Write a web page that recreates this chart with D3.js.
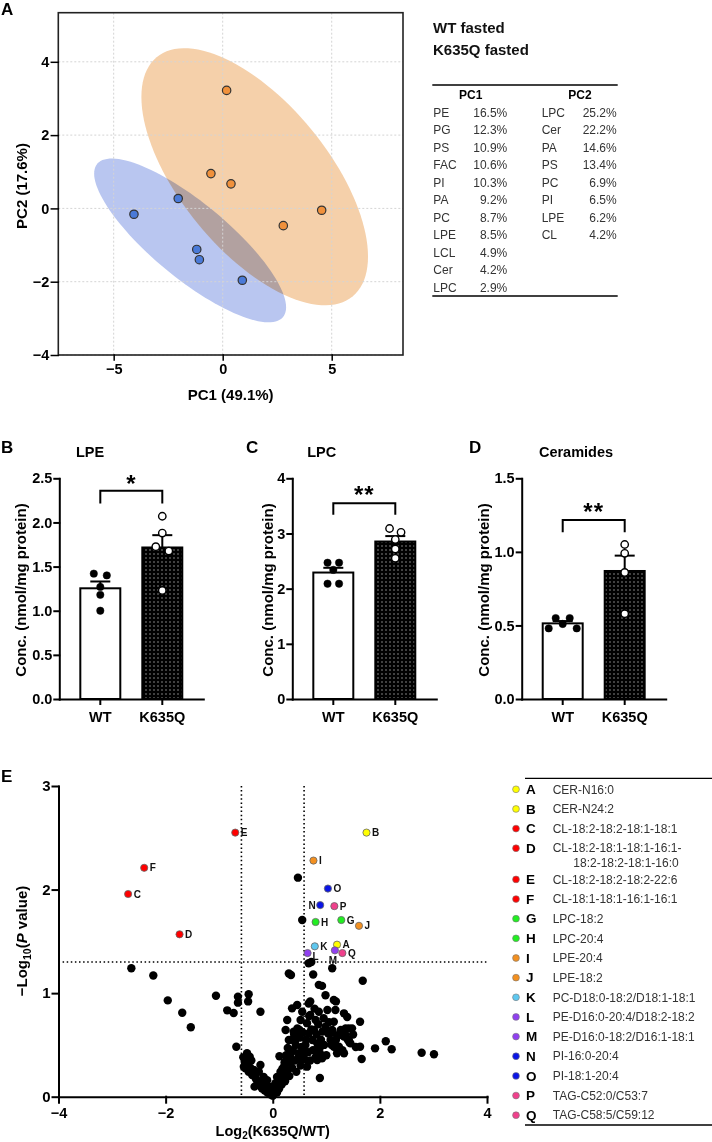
<!DOCTYPE html>
<html><head><meta charset="utf-8">
<script src="https://cdn.jsdelivr.net/npm/d3@7/dist/d3.min.js"></script>
<style>
html,body{margin:0;padding:0;background:#fff;}
svg{display:block;}
</style></head>
<body>
<svg id="chart" width="712" height="1142" xmlns="http://www.w3.org/2000/svg"></svg>
<script>
// ================= DATA =================
// Panel A – PCA scores
const pcaWT    = [[-4.07,-0.16],[-2.04,0.27],[-1.19,-1.12],[-1.07,-1.40],[0.90,-1.96]];
const pcaK635Q = [[0.18,3.22],[-0.54,0.95],[0.38,0.67],[2.78,-0.47],[4.54,-0.05]];
const pcaXTicks = [-5,0,5];
const pcaYTicks = [-4,-2,0,2,4];
const pcaXDomain = [-7.54, 8.27];
const pcaYDomain = [-4, 5.34];
const pcaGroups = ["WT fasted","K635Q fasted"];
const pc1Names = ["PE","PG","PS","FAC","PI","PA","PC","LPE","LCL","Cer","LPC"];
const pc1Pct   = ["16.5%","12.3%","10.9%","10.6%","10.3%","9.2%","8.7%","8.5%","4.9%","4.2%","2.9%"];
const pc2Names = ["LPC","Cer","PA","PS","PC","PI","LPE","CL"];
const pc2Pct   = ["25.2%","22.2%","14.6%","13.4%","6.9%","6.5%","6.2%","4.2%"];

// Panels B–D – bar charts (individual animals)
const barGroups = ["WT","K635Q"];
const lpeWT    = [1.42,1.40,1.27,1.18,1.00];
const lpeK635Q = [2.07,1.88,1.725,1.676,1.23];
const lpcWT    = [2.47,2.47,2.34,2.09,2.09];
const lpcK635Q = [3.09,3.02,2.89,2.72,2.55];
const cerWT    = [0.48,0.55,0.51,0.55,0.48];
const cerK635Q = [1.05,0.99,0.86,0.58];
const lpeTicks = [0,0.5,1,1.5,2,2.5];
const lpcTicks = [0,1,2,3,4];
const cerTicks = [0,0.5,1,1.5];

// Panel E – volcano
const volIds = ["A","B","C","D","E","F","G","H","I","J","K","L","M","N","O","P","Q"];
const volNames = ["CER-N16:0","CER-N24:2","CL-18:2-18:2-18:1-18:1",
  "CL-18:2-18:1-18:1-16:1-\n18:2-18:2-18:1-16:0","CL-18:2-18:2-18:2-22:6",
  "CL-18:1-18:1-16:1-16:1","LPC-18:2","LPC-20:4","LPE-20:4","LPE-18:2",
  "PC-D18:0-18:2/D18:1-18:1","PE-D16:0-20:4/D18:2-18:2","PE-D16:0-18:2/D16:1-18:1",
  "PI-16:0-20:4","PI-18:1-20:4","TAG-C52:0/C53:7","TAG-C58:5/C59:12"];
const volColors = ["#ffff00","#ffff00","#ff0000","#ff0000","#ff0000","#ff0000",
  "#22ee22","#22ee22","#f39020","#f39020","#5ec8f0","#9040f0","#9040f0",
  "#0a14e6","#0a14e6","#f0408c","#f0408c"];
const volX = [1.20,1.75,-2.70,-1.74,-0.70,-2.40,1.28,0.80,0.76,1.61,0.785,0.65,1.16,0.886,1.03,1.15,1.30];
const volY = [1.468,2.55,1.957,1.568,2.55,2.21,1.706,1.687,2.28,1.65,1.452,1.387,1.413,1.85,2.01,1.84,1.387];
const volOther = [
 [-2.64,1.24],[-2.23,1.17],[-1.96,0.93],[-1.69,0.81],[-1.53,0.67],[-1.06,0.975],[-0.85,0.834],
 [-0.73,0.808],[-0.65,0.966],[-0.65,0.908],[-0.68,0.483],[-0.45,0.99],[-0.46,0.92],[-0.23,0.82],
 [-0.48,0.42],[-0.43,0.386],[-0.51,0.274],[-0.45,0.24],[-0.385,0.21],[-0.34,0.097],[-0.23,0.306],
 [-0.26,0.24],[-0.17,0.19],[-0.105,0.16],[-0.04,0.097],[-0.01,0.05],[0.02,0.033],[0.05,0.13],
 [0.08,0.19],[0.125,0.39],[0.145,0.24],[0.21,0.29],[0.26,0.354],[0.27,0.74],[0.24,0.644],
 [0.30,1.19],[0.34,1.175],[0.36,0.853],[0.39,0.628],[0.33,0.45],[0.30,0.547],[0.42,0.547],
 [0.456,0.885],[0.52,0.74],[0.55,0.82],[0.50,0.644],[0.49,0.42],[0.52,0.354],[0.58,0.45],
 [0.61,0.50],[0.64,0.71],[0.67,0.61],[0.67,1.288],[0.72,1.30],[0.755,1.18],[0.70,0.92],
 [0.67,0.90],[0.70,0.79],[0.86,1.08],[0.92,1.07],[0.985,0.98],[0.86,0.82],[0.80,0.74],
 [0.77,0.644],[0.74,0.547],[0.83,0.515],[0.89,0.483],[0.80,0.45],[0.92,0.37],[0.83,0.354],
 [0.88,0.18],[0.95,0.757],[0.985,0.676],[1.02,0.837],[1.035,0.61],[1.11,1.24],[1.14,0.934],
 [1.18,0.92],[1.17,0.837],[1.14,0.724],[1.11,0.644],[1.08,0.547],[1.17,0.547],[1.14,0.483],
 [1.235,0.483],[1.27,0.644],[1.33,0.805],[1.39,0.77],[1.36,0.66],[1.42,0.66],[1.33,0.58],
 [1.42,0.547],[1.45,0.515],[1.30,0.45],[1.33,0.42],[1.48,0.66],[1.63,0.724],[1.68,1.12],
 [1.63,0.483],[1.66,0.364],[1.91,0.467],[2.11,0.535],[2.22,0.458],[2.78,0.425],[3.01,0.41],
 [0.47,2.115],[0.55,1.706],[1.235,0.595],[1.36,0.595],[1.43,0.525],[1.14,0.49],
 [-0.54,0.29],[-0.355,0.258],[-0.32,0.18],[-0.23,0.13],[-0.10,0.08],
 [-0.55,0.38],[-0.52,0.33],[-0.47,0.30],[-0.42,0.28],[-0.40,0.35],[-0.36,0.25],[-0.33,0.20],
 [-0.30,0.16],[-0.28,0.12],[-0.25,0.14],[-0.22,0.10],[-0.20,0.08],[-0.18,0.12],[-0.15,0.06],
 [-0.12,0.09],[-0.10,0.04],[-0.08,0.07],[-0.06,0.03],[-0.04,0.02],[-0.02,0.05],[0.0,0.01],
 [0.04,0.06],[0.06,0.10],[0.08,0.04],[0.10,0.13],[0.12,0.08],[0.14,0.18],[0.15,0.22],
 [0.17,0.12],[0.18,0.27],[0.20,0.20],[0.22,0.33],[0.23,0.15],[0.25,0.40],[0.27,0.25],
 [0.28,0.47],[0.30,0.33],[0.31,0.20],[0.33,0.38],[0.35,0.55],[0.36,0.28],[0.38,0.44],
 [0.40,0.60],[0.41,0.35],[0.43,0.50],[0.44,0.24],[0.46,0.66],[0.48,0.38],[0.50,0.57],
 [0.52,0.30],[0.54,0.48],[0.56,0.62],[0.57,0.40],[0.60,0.36],[0.62,0.55],[0.64,0.29],
 [0.66,0.43],[0.68,0.78],[0.70,0.35],[0.72,0.65],[0.75,0.45],[0.78,0.85],[0.80,0.38],
 [0.82,0.60],[0.85,0.70],[0.88,0.42],[0.90,0.55],[0.93,0.63],[0.96,0.50],[1.00,0.40],
 [1.05,0.72],[1.10,0.50],[1.12,0.62],[1.18,0.55],[1.20,0.42],[1.25,0.60],[1.40,0.55],
 [1.50,0.60],[1.55,0.48]
];
const volXTicks = [-4,-2,0,2,4];
const volYTicks = [0,1,2,3];
const fcCut = 0.585;   // log2(1.5)
const pCut = 1.301;    // -log10(0.05)

// ================= DRAWING =================
const FONT = 'Arial, "Liberation Sans", Helvetica, sans-serif';
const svg = d3.select("#chart").attr("font-family", FONT);
const defs = svg.append("defs");
const pat = defs.append("pattern").attr("id","dots").attr("patternUnits","userSpaceOnUse")
  .attr("width",4).attr("height",4);
pat.append("rect").attr("width",4).attr("height",4).attr("fill","#000");
pat.append("rect").attr("x",1.5).attr("y",1.5).attr("width",1).attr("height",1).attr("fill","#fff");

function letter(t,x,y){
  svg.append("text").attr("x",x).attr("y",y).attr("dy","0.35em").attr("font-size",17)
    .attr("font-weight","bold").attr("fill","#000").text(t);
}
function styleAxis(g,fs,sw){
  g.attr("font-family",FONT).attr("font-size",fs).attr("font-weight","bold");
  g.selectAll("text").attr("fill","#000");
  g.selectAll("line,path").attr("stroke","#000").attr("stroke-width",sw).attr("stroke-linecap","square");
}

// ---------- Panel A ----------
letter("A",1,9);
const ax = d3.scaleLinear().domain(pcaXDomain).range([58.3,403]);
const ay = d3.scaleLinear().domain(pcaYDomain).range([355,12.7]);

function confEllipse(pts, chi2, n){
  const m = pts.length;
  const mx = d3.mean(pts,d=>d[0]), my = d3.mean(pts,d=>d[1]);
  let sxx=0,syy=0,sxy=0;
  pts.forEach(([x,y])=>{sxx+=(x-mx)**2; syy+=(y-my)**2; sxy+=(x-mx)*(y-my);});
  sxx/=(m-1); syy/=(m-1); sxy/=(m-1);
  const a=Math.sqrt(sxx), b=sxy/a, c=Math.sqrt(syy-b*b), k=Math.sqrt(chi2);
  return d3.range(n).map(i=>{const t=2*Math.PI*i/n, u=Math.cos(t), v=Math.sin(t);
    return [mx+k*a*u, my+k*(b*u+c*v)];});
}
const ell = d3.line().x(d=>ax(d[0])).y(d=>ay(d[1])).curve(d3.curveLinearClosed);
const gA = svg.append("g");
gA.append("path").attr("d",ell(confEllipse(pcaWT,5.991,120))).attr("fill","#b9c6f0");
gA.append("path").attr("d",ell(confEllipse(pcaK635Q,5.991,120))).attr("fill","#f5d0aa")
  .style("mix-blend-mode","multiply");
// grid
gA.selectAll(".gx").data(pcaXTicks).join("line").attr("x1",d=>ax(d)).attr("x2",d=>ax(d))
  .attr("y1",ay.range()[1]).attr("y2",ay.range()[0]).attr("stroke","#d4d4d4").attr("stroke-dasharray","2,2");
gA.selectAll(".gy").data(pcaYTicks).join("line").attr("y1",d=>ay(d)).attr("y2",d=>ay(d))
  .attr("x1",ax.range()[0]).attr("x2",ax.range()[1]).attr("stroke","#d4d4d4").attr("stroke-dasharray","2,2");
gA.append("rect").attr("x",ax.range()[0]).attr("y",ay.range()[1])
  .attr("width",ax.range()[1]-ax.range()[0]).attr("height",ay.range()[0]-ay.range()[1])
  .attr("fill","none").attr("stroke","#222").attr("stroke-width",1.6);
const axL = gA.append("g").attr("transform",`translate(${ax.range()[0]},0)`)
  .call(d3.axisLeft(ay).tickValues(pcaYTicks).tickSize(7).tickPadding(2).tickSizeOuter(0));
axL.select(".domain").remove(); styleAxis(axL,14.5,1.5);
const axB = gA.append("g").attr("transform",`translate(0,${ay.range()[0]})`)
  .call(d3.axisBottom(ax).tickValues(pcaXTicks).tickSize(5).tickPadding(4).tickSizeOuter(0));
axB.select(".domain").remove(); styleAxis(axB,14.5,1.5);
gA.append("text").attr("x",(ax.range()[0]+ax.range()[1])/2).attr("y",395).attr("dy","0.35em")
  .attr("text-anchor","middle").attr("font-size",15).attr("font-weight","bold").text("PC1 (49.1%)");
gA.append("text").attr("transform","translate(22,186) rotate(-90)").attr("dy","0.35em")
  .attr("text-anchor","middle").attr("font-size",15).attr("font-weight","bold").text("PC2 (17.6%)");
[[pcaWT,"#4a7ad8"],[pcaK635Q,"#f0913c"]].forEach(([pts,col])=>{
  gA.selectAll(null).data(pts).join("circle").attr("cx",d=>ax(d[0])).attr("cy",d=>ay(d[1]))
    .attr("r",4.2).attr("fill",col).attr("stroke","#333").attr("stroke-width",1.2);
});
// legend + loadings table
svg.selectAll(".lg").data(pcaGroups).join("text").attr("x",433).attr("y",(d,i)=>27.3+i*22)
  .attr("dy","0.35em").attr("font-size",15).attr("font-weight","bold").attr("fill","#111").text(d=>d);
svg.append("line").attr("x1",432.3).attr("x2",617.7).attr("y1",85).attr("y2",85).attr("stroke","#000").attr("stroke-width",1.3);
svg.append("line").attr("x1",432.3).attr("x2",617.7).attr("y1",296).attr("y2",296).attr("stroke","#000").attr("stroke-width",1.3);
svg.append("text").attr("x",470.7).attr("y",95).attr("dy","0.35em").attr("text-anchor","middle")
  .attr("font-size",12).attr("font-weight","bold").text("PC1");
svg.append("text").attr("x",580).attr("y",95).attr("dy","0.35em").attr("text-anchor","middle")
  .attr("font-size",12).attr("font-weight","bold").text("PC2");
const rowY = i => 112.7 + i*17.46;
function tableCol(names,pcts,xn,xv){
  svg.selectAll(null).data(names).join("text").attr("x",xn).attr("y",(d,i)=>rowY(i)).attr("dy","0.35em")
    .attr("font-size",12).attr("fill","#333").text(d=>d);
  svg.selectAll(null).data(pcts).join("text").attr("x",xv).attr("y",(d,i)=>rowY(i)).attr("dy","0.35em")
    .attr("text-anchor","end").attr("font-size",12).attr("fill","#333").text(d=>d);
}
tableCol(pc1Names,pc1Pct,433.3,507.3);
tableCol(pc2Names,pc2Pct,541.7,616.7);

// ---------- Panels B–D ----------
function offsets(vals,y,gap,sp){
  const idx = vals.map((v,i)=>i).sort((a,b)=>vals[b]-vals[a]);
  const groups=[]; let cur=[idx[0]];
  for(let k=1;k<idx.length;k++){
    if(Math.abs(y(vals[idx[k]])-y(vals[idx[k-1]]))<gap) cur.push(idx[k]);
    else {groups.push(cur); cur=[idx[k]];}
  }
  groups.push(cur);
  const off = new Array(vals.length).fill(0);
  groups.forEach(gr=>{gr.sort((a,b)=>a-b); gr.forEach((id,j)=>off[id]=(j-(gr.length-1)/2)*sp);});
  return off;
}
function barPanel(o){
  const y = d3.scaleLinear().domain([0,o.ticks[o.ticks.length-1]]).range([699,478.3]);
  const x = d3.scaleBand().domain(barGroups).range([o.x0,o.x0+144]).paddingInner(0.355).paddingOuter(0.339);
  const g = svg.append("g");
  letter(o.letter,o.lx,447.5);
  g.append("text").attr("x",o.tx).attr("y",451.7).attr("dy","0.35em").attr("text-anchor","middle")
    .attr("font-size",14.5).attr("font-weight","bold").text(o.title);
  [o.wt,o.k].forEach((vals,i)=>{
    const grp = barGroups[i], m = d3.mean(vals), sem = d3.deviation(vals)/Math.sqrt(vals.length);
    const bx = x(grp), bw = x.bandwidth(), cx = bx+bw/2;
    g.append("line").attr("x1",cx).attr("x2",cx).attr("y1",y(m)).attr("y2",y(m+sem)).attr("stroke","#000").attr("stroke-width",2);
    g.append("line").attr("x1",cx-10).attr("x2",cx+10).attr("y1",y(m+sem)).attr("y2",y(m+sem)).attr("stroke","#000").attr("stroke-width",2);
    g.append("rect").attr("x",bx).attr("y",y(m)).attr("width",bw).attr("height",y(0)-y(m))
      .attr("fill",i?"url(#dots)":"#fff").attr("stroke","#000").attr("stroke-width",2);
    const off = offsets(vals,y,7,o.sp);
    g.selectAll(null).data(vals).join("circle").attr("cx",(d,j)=>cx+off[j]).attr("cy",d=>y(d)).attr("r",3.7)
      .attr("fill",i?"#fff":"#000").attr("stroke","#000").attr("stroke-width",i?1.4:0.5);
  });
  // axes
  const yl = g.append("g").attr("transform",`translate(${o.x0},0)`)
    .call(d3.axisLeft(y).tickValues(o.ticks).tickFormat(o.fmt).tickSize(5).tickPadding(2).tickSizeOuter(0));
  styleAxis(yl,14.5,2);
  const xl = g.append("g").attr("transform",`translate(0,${y(0)})`)
    .call(d3.axisBottom(x).tickSize(5).tickPadding(7.5).tickSizeOuter(0));
  styleAxis(xl,14.5,2);
  g.append("text").attr("transform",`translate(${o.ylx},590) rotate(-90)`).attr("dy","0.35em")
    .attr("text-anchor","middle").attr("font-size",15).attr("font-weight","bold").text("Conc. (nmol/mg protein)");
  // significance bracket
  const c1 = x("WT")+x.bandwidth()/2, c2 = x("K635Q")+x.bandwidth()/2;
  g.append("path").attr("d",`M${c1},${y(o.br[1])}V${y(o.br[0])}H${c2}V${y(o.br[1])}`)
    .attr("fill","none").attr("stroke","#000").attr("stroke-width",2);
  g.append("text").attr("x",(c1+c2)/2).attr("y",y(o.br[0])+o.sy).attr("text-anchor","middle")
    .attr("font-size",24).attr("font-weight","bold").attr("letter-spacing",1).text(o.stars);
}
barPanel({letter:"B",lx:1,title:"LPE",tx:90,x0:59.3,wt:lpeWT,k:lpeK635Q,ticks:lpeTicks,
  fmt:d3.format(".1f"),ylx:21,br:[2.36,2.215],stars:"*",sy:1,sp:13});
barPanel({letter:"C",lx:246,title:"LPC",tx:321.7,x0:292.3,wt:lpcWT,k:lpcK635Q,ticks:lpcTicks,
  fmt:d3.format("d"),ylx:268,br:[3.55,3.34],stars:"**",sy:0,sp:11.5});
barPanel({letter:"D",lx:469,title:"Ceramides",tx:576,x0:521.7,wt:cerWT,k:cerK635Q,ticks:cerTicks,
  fmt:d3.format(".1f"),ylx:484,br:[1.217,1.133],stars:"**",sy:0,sp:7});

// ---------- Panel E ----------
letter("E",1,776);
const vx = d3.scaleLinear().domain([-4,4]).range([58.5,487]);
const vy = d3.scaleLinear().domain([0,3]).range([1096.7,786]);
const gE = svg.append("g");
// threshold lines
[-fcCut,fcCut].forEach(v=>{
  gE.append("line").attr("x1",vx(v)).attr("x2",vx(v)).attr("y1",vy(3)).attr("y2",vy(0))
    .attr("stroke","#000").attr("stroke-width",1.6).attr("stroke-dasharray","1.5,2.6");
});
gE.append("line").attr("x1",vx(-4)).attr("x2",vx(4)).attr("y1",vy(pCut)).attr("y2",vy(pCut))
  .attr("stroke","#000").attr("stroke-width",1.6).attr("stroke-dasharray","1.5,2.6");
gE.selectAll(null).data(volOther).join("circle").attr("cx",d=>vx(d[0])).attr("cy",d=>vy(d[1]))
  .attr("r",4.2).attr("fill","#000");
const vl = gE.append("g").attr("transform",`translate(${vx(-4)},0)`)
  .call(d3.axisLeft(vy).tickValues(volYTicks).tickFormat(d3.format("d")).tickSize(6).tickPadding(2).tickSizeOuter(0));
styleAxis(vl,15,2);
const vb = gE.append("g").attr("transform",`translate(0,${vy(0)})`)
  .call(d3.axisBottom(vx).tickValues(volXTicks).tickFormat(d3.format("d")).tickSize(6).tickPadding(5).tickSizeOuter(0));
styleAxis(vb,14.5,2);
const labelPos = {N:"l", M:"b", L:"rb"};
volIds.forEach((id,i)=>{
  const cx = vx(volX[i]), cy = vy(volY[i]);
  gE.append("circle").attr("cx",cx).attr("cy",cy).attr("r",3.6).attr("fill",volColors[i])
    .attr("stroke","#666").attr("stroke-width",0.8);
  const p = labelPos[id] || "r";
  const t = gE.append("text").attr("font-size",10).attr("font-weight","bold").attr("fill","#111").text(id);
  if(p==="r") t.attr("x",cx+5.5).attr("y",cy+3.6);
  else if(p==="l") t.attr("x",cx-4.5).attr("y",cy+3.6).attr("text-anchor","end");
  else if(p==="b") t.attr("x",cx-2).attr("y",cy+13.5).attr("text-anchor","middle");
  else t.attr("x",cx+5).attr("y",cy+7.4);
});
// axis titles
const ylab = gE.append("text").attr("transform","translate(22,941) rotate(-90)").attr("text-anchor","middle")
  .attr("dy","0.35em").attr("font-size",15).attr("font-weight","bold");
ylab.append("tspan").text("\u2212Log");
ylab.append("tspan").attr("font-size",10.5).attr("dy",4).text("10");
ylab.append("tspan").attr("dy",-4).text("(");
ylab.append("tspan").attr("font-style","italic").text("P");
ylab.append("tspan").text(" value)");
const xlab = gE.append("text").attr("x",(vx(-4)+vx(4))/2).attr("y",1136).attr("text-anchor","middle")
  .attr("font-size",14.5).attr("font-weight","bold");
xlab.append("tspan").text("Log");
xlab.append("tspan").attr("font-size",10).attr("dy",3).text("2");
xlab.append("tspan").attr("dy",-3).text("(K635Q/WT)");

// legend table
svg.append("line").attr("x1",525).attr("x2",712).attr("y1",778.3).attr("y2",778.3).attr("stroke","#000").attr("stroke-width",1.3);
svg.append("line").attr("x1",525).attr("x2",712).attr("y1",1125).attr("y2",1125).attr("stroke","#000").attr("stroke-width",1.3);
let ly = 789.3;
volIds.forEach((id,i)=>{
  const g = svg.append("g");
  g.append("circle").attr("cx",516).attr("cy",ly).attr("r",3.4).attr("fill",volColors[i]).attr("stroke","#777").attr("stroke-width",0.6);
  g.append("text").attr("x",526).attr("y",ly).attr("dy","0.35em").attr("font-size",13.5).attr("font-weight","bold").text(id);
  const lines = volNames[i].split("\n");
  lines.forEach((ln,k)=>{
    g.append("text").attr("x",k?573.3:552.7).attr("y",ly+k*14.6).attr("dy","0.35em")
      .attr("font-size",12).attr("fill","#333").text(ln);
  });
  ly += 19.65 + (lines.length-1)*11.5;
});
</script>
</body></html>
